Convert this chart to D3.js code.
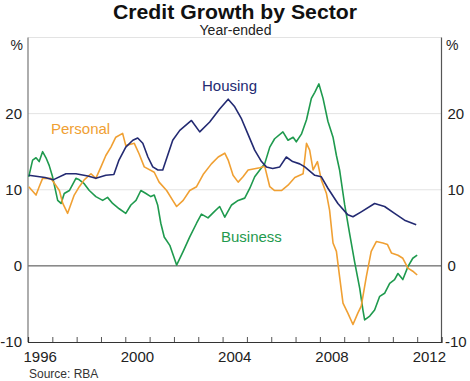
<!DOCTYPE html>
<html>
<head>
<meta charset="utf-8">
<script src="https://cdn.jsdelivr.net/npm/d3@7"></script>
<style>
html, body { margin: 0; padding: 0; background: #fff; }
svg { display: block; font-family: "Liberation Sans", Arial, sans-serif; }
</style>
</head>
<body>
<svg id="chart" width="470" height="381"></svg>
<script>
// ---- Data (decimal year, % year-ended growth) ----
const housing = [
  [1996.03,11.9],[1996.70,11.6],[1997.03,11.3],[1997.56,12.1],[1997.97,12.1],[1998.46,11.8],
  [1998.79,11.5],[1999.20,11.9],[1999.53,12.0],[1999.74,13.9],[2000.02,15.6],[2000.31,16.5],
  [2000.51,16.8],[2000.72,16.1],[2000.93,14.3],[2001.13,13.0],[2001.34,12.6],[2001.54,12.6],
  [2001.95,16.5],[2002.24,17.8],[2002.72,19.1],[2003.06,17.6],[2003.47,18.9],[2003.88,20.6],
  [2004.23,21.9],[2004.50,20.9],[2004.78,19.3],[2005.03,17.4],[2005.32,15.2],[2005.60,13.7],
  [2005.80,13.0],[2006.06,12.8],[2006.35,13.0],[2006.62,14.3],[2006.88,13.7],[2007.17,13.4],
  [2007.38,13.0],[2007.79,11.9],[2008.06,11.7],[2008.33,10.2],[2008.74,8.2],[2009.15,6.7],
  [2009.36,6.45],[2009.70,7.1],[2010.25,8.2],[2010.66,7.8],[2011.07,6.9],[2011.48,6.0],[2011.96,5.4]
];
const personal = [
  [1996.03,10.4],[1996.33,9.3],[1996.46,10.4],[1996.60,11.5],[1996.94,11.5],[1997.29,9.9],
  [1997.43,8.2],[1997.63,6.9],[1997.90,9.3],[1998.11,10.4],[1998.31,11.3],[1998.59,12.1],
  [1998.79,11.5],[1999.00,13.0],[1999.20,14.5],[1999.41,15.6],[1999.61,16.9],[1999.89,17.4],
  [2000.02,15.8],[2000.37,16.1],[2000.57,14.7],[2000.78,13.0],[2001.19,12.3],[2001.39,11.0],
  [2001.70,9.9],[2001.97,8.5],[2002.11,7.8],[2002.38,8.6],[2002.65,9.9],[2002.93,10.4],
  [2003.20,12.0],[2003.54,13.4],[2003.82,14.3],[2004.09,14.8],[2004.23,13.9],[2004.43,11.9],
  [2004.64,11.0],[2004.84,11.7],[2005.05,12.6],[2005.53,12.9],[2005.73,13.1],[2005.94,10.4],
  [2006.14,9.9],[2006.42,9.9],[2006.69,10.6],[2006.97,11.6],[2007.31,12.1],[2007.45,16.1],
  [2007.58,15.2],[2007.72,12.6],[2007.90,13.7],[2008.06,11.3],[2008.27,9.5],[2008.40,7.3],
  [2008.54,3.0],[2008.68,1.9],[2008.81,-1.4],[2008.95,-4.9],[2009.15,-6.2],[2009.36,-7.7],
  [2009.56,-6.2],[2009.70,-5.3],[2009.91,-1.4],[2010.11,1.9],[2010.32,3.2],[2010.59,3.0],
  [2010.78,2.8],[2010.94,1.7],[2011.21,1.4],[2011.41,1.0],[2011.62,-0.3],[2011.82,-0.7],[2012.00,-1.2]
];
const business = [
  [1996.03,11.7],[1996.19,13.9],[1996.33,14.2],[1996.46,13.7],[1996.60,15.0],[1996.74,14.2],
  [1996.87,13.2],[1997.01,11.7],[1997.22,8.6],[1997.36,8.2],[1997.49,9.5],[1997.70,9.9],
  [1997.97,11.5],[1998.11,11.3],[1998.31,10.8],[1998.52,9.9],[1998.79,9.1],[1999.07,8.6],
  [1999.27,9.0],[1999.48,8.2],[1999.75,7.5],[2000.02,6.9],[2000.23,8.0],[2000.44,8.6],
  [2000.64,9.9],[2000.85,9.5],[2001.05,9.1],[2001.19,9.3],[2001.33,8.0],[2001.46,5.6],
  [2001.60,3.8],[2001.83,2.7],[2002.11,0.1],[2002.38,1.9],[2002.65,3.8],[2002.93,5.6],
  [2003.13,6.8],[2003.40,6.3],[2003.68,7.2],[2003.88,7.8],[2004.09,6.4],[2004.37,8.0],
  [2004.64,8.6],[2004.91,8.9],[2005.12,10.2],[2005.32,11.7],[2005.53,12.6],[2005.73,13.4],
  [2005.94,15.6],[2006.14,16.7],[2006.48,17.6],[2006.69,16.5],[2006.90,16.9],[2007.03,16.3],
  [2007.24,17.3],[2007.45,19.2],[2007.65,22.0],[2007.79,22.8],[2007.96,23.9],[2008.13,22.0],
  [2008.33,19.0],[2008.54,16.9],[2008.68,14.5],[2008.81,12.6],[2009.02,8.0],[2009.23,4.1],
  [2009.43,0.5],[2009.64,-3.0],[2009.77,-5.8],[2009.84,-7.1],[2010.05,-6.6],[2010.25,-5.8],
  [2010.46,-4.0],[2010.66,-3.6],[2010.87,-2.3],[2011.07,-1.8],[2011.21,-1.0],[2011.41,-1.8],
  [2011.62,-0.1],[2011.82,1.0],[2012.00,1.4]
];
const xLabelYears = [1996, 2000, 2004, 2008, 2012];
const yTickValues = [-10, 0, 10, 20];
const gridValues = [10, 20, 30];
const seriesNames = ["Housing", "Personal", "Business"];

// ---- Layout ----
const svg = d3.select("#chart");
const L = 28, R = 441.5, T = 37.5, B = 342;
const x = d3.scaleLinear().domain([1996, 2013]).range([L, R]);
const y = d3.scaleLinear().domain([-10, 30]).range([B, T]);

const colors = { Housing: "#232a72", Personal: "#f0a033", Business: "#1f9a4e" };

// gridlines
svg.append("g").selectAll("line").data(gridValues).join("line")
  .attr("x1", L).attr("x2", R)
  .attr("y1", d => y(d)).attr("y2", d => y(d))
  .attr("stroke", "#e3e3e3").attr("stroke-width", 1);

// zero line
svg.append("line").attr("x1", L).attr("x2", R).attr("y1", y(0)).attr("y2", y(0))
  .attr("stroke", "#444").attr("stroke-width", 1);

// side axes
svg.append("line").attr("x1", L).attr("x2", L).attr("y1", T).attr("y2", B)
  .attr("stroke", "#777").attr("stroke-width", 1.2);
svg.append("line").attr("x1", R).attr("x2", R).attr("y1", T).attr("y2", B)
  .attr("stroke", "#555").attr("stroke-width", 1.2);

// bottom axis with year ticks pointing inward
const xAxis = d3.axisBottom(x)
  .tickValues(d3.range(1997, 2013))
  .tickSize(-5).tickFormat("");
const gx = svg.append("g").attr("transform", `translate(0,${B})`).call(xAxis);
gx.select(".domain").attr("stroke", "#333").attr("stroke-width", 1.2);
gx.selectAll(".tick line").attr("stroke", "#555");

// x labels centred mid-year
svg.append("g").selectAll("text").data(xLabelYears).join("text")
  .attr("x", d => x(d + 0.5)).attr("y", 361.5)
  .attr("text-anchor", "middle").attr("font-size", 15).attr("fill", "#222")
  .text(d => d);

// y labels left & right
svg.append("g").selectAll("text").data(yTickValues).join("text")
  .attr("x", 22).attr("y", d => y(d)).attr("dy", "0.36em")
  .attr("text-anchor", "end").attr("font-size", 15).attr("fill", "#222")
  .text(d => d);
svg.append("g").selectAll("text").data(yTickValues).join("text")
  .attr("x", d => d < 0 ? 445 : 447.5).attr("y", d => y(d)).attr("dy", "0.36em")
  .attr("text-anchor", "start").attr("font-size", 15).attr("fill", "#222")
  .text(d => d);
svg.append("text").attr("x", 23).attr("y", 50).attr("text-anchor", "end")
  .attr("font-size", 14).attr("fill", "#222").text("%");
svg.append("text").attr("x", 446).attr("y", 50).attr("text-anchor", "start")
  .attr("font-size", 14).attr("fill", "#222").text("%");

// lines
const line = d3.line().x(d => x(d[0])).y(d => y(d[1]));
const seriesData = { Housing: housing, Personal: personal, Business: business };
["Business", "Personal", "Housing"].forEach(name => {
  svg.append("path").datum(seriesData[name])
    .attr("d", line).attr("fill", "none")
    .attr("stroke", colors[name]).attr("stroke-width", 1.6)
    .attr("stroke-linejoin", "round");
});

// series labels
const labelPos = { Housing: [202, 91], Personal: [51, 134], Business: [221, 242] };
seriesNames.forEach(name => {
  svg.append("text").attr("x", labelPos[name][0]).attr("y", labelPos[name][1])
    .attr("font-size", 15).attr("fill", colors[name]).text(name);
});

// titles
svg.append("text").attr("x", 235).attr("y", 18.5).attr("text-anchor", "middle")
  .attr("font-size", 20).attr("font-weight", "bold").attr("fill", "#111")
  .attr("textLength", 244).attr("lengthAdjust", "spacingAndGlyphs")
  .text("Credit Growth by Sector");
svg.append("text").attr("x", 235.5).attr("y", 35).attr("text-anchor", "middle")
  .attr("font-size", 14).attr("fill", "#222").text("Year-ended");
svg.append("text").attr("x", 29).attr("y", 378)
  .attr("font-size", 12).attr("fill", "#333").text("Source: RBA");
</script>
</body>
</html>
